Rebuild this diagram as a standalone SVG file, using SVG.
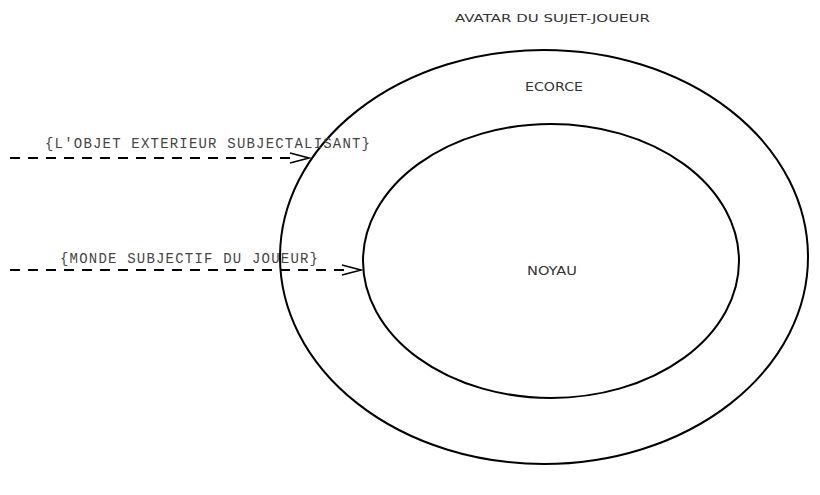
<svg xmlns="http://www.w3.org/2000/svg" width="820" height="495" viewBox="0 0 820 495">
<style>
.sans{font-family:"DejaVu Sans","Liberation Sans",sans-serif;font-size:11px;fill:#333}
.lbl{font-family:"DejaVu Sans","Liberation Sans",sans-serif;font-size:12.5px;fill:#333}
.mono{font-family:"Liberation Mono","Courier New",monospace;font-size:14px;fill:#444}
.ring{fill:none;stroke:#000;stroke-width:2}
.dash{fill:none;stroke:#000;stroke-width:2;stroke-dasharray:10 8}
.head{fill:none;stroke:#000;stroke-width:1.6}
</style>
<rect width="820" height="495" fill="#fff"/>
<text class="sans" x="455" y="22" textLength="195" lengthAdjust="spacingAndGlyphs">AVATAR DU SUJET-JOUEUR</text>
<g id="ecorce">
<ellipse class="ring" cx="544" cy="257" rx="264" ry="207"/>
<text class="lbl" x="554" y="91" text-anchor="middle" textLength="58" lengthAdjust="spacingAndGlyphs">ECORCE</text>
</g>
<g id="noyau">
<ellipse class="ring" cx="551" cy="261" rx="188" ry="137"/>
<text class="lbl" x="552" y="275" text-anchor="middle" textLength="50" lengthAdjust="spacingAndGlyphs">NOYAU</text>
</g>
<g id="connectors">
<line class="dash" x1="10" y1="158" x2="292" y2="158"/>
<polyline class="head" points="290,153 309,158 290,163"/>
<text class="mono" x="45" y="148" textLength="325" lengthAdjust="spacing">{L'OBJET EXTERIEUR SUBJECTALISANT}</text>
<line class="dash" x1="10" y1="270" x2="344" y2="270"/>
<polyline class="head" points="342,265 361,270 342,275"/>
<text class="mono" x="60" y="263" textLength="258" lengthAdjust="spacing">{MONDE SUBJECTIF DU JOUEUR}</text>
</g>
</svg>
